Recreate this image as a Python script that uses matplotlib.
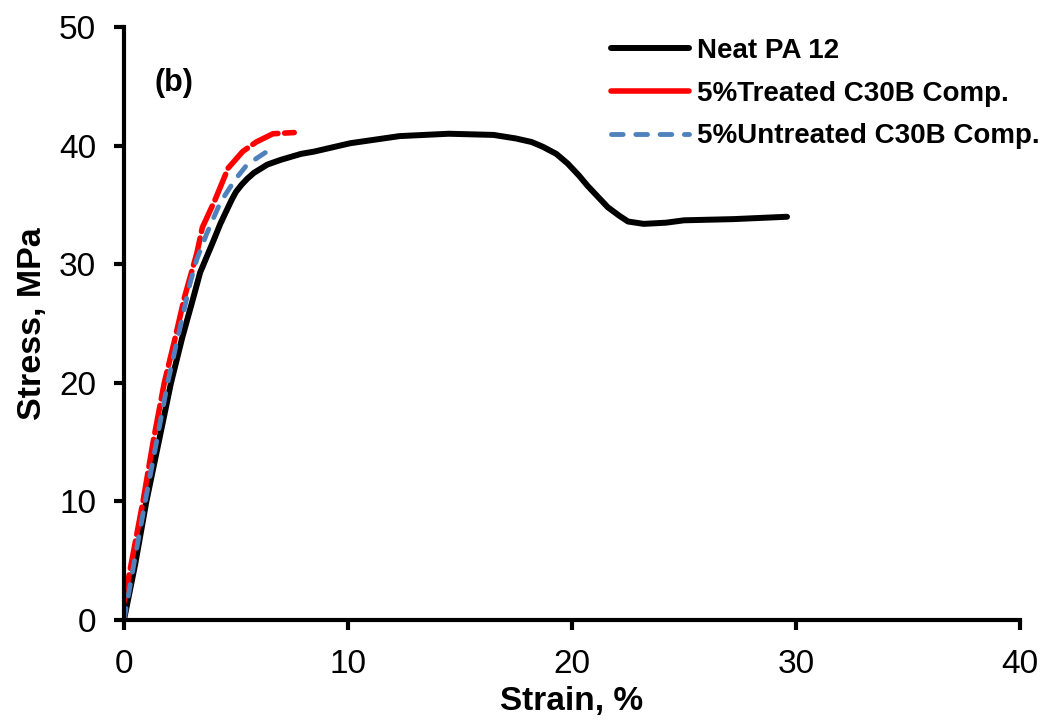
import matplotlib
matplotlib.use("Agg")
import matplotlib.pyplot as plt
from matplotlib.lines import Line2D

plt.rcParams['font.family'] = ['Liberation Sans', 'DejaVu Sans']

# Neat PA 12
strain_neat = [0, 0.5, 1.0, 1.55, 2.1, 2.6, 3.1, 3.4, 4.0, 4.3, 4.6, 4.8, 5.0, 5.25, 5.5,
               5.8, 6.4, 7.0, 7.9, 8.5, 10.1, 12.3, 14.5, 16.5, 17.5, 18.2, 18.7, 19.3,
               19.8, 20.3, 20.7, 21.2, 21.6, 22.1, 22.5, 23.2, 24.2, 25.0, 27.2, 29.6]
stress_neat = [0, 4.7, 10, 15, 20, 23.8, 27.2, 29.3, 32.0, 33.4, 34.6, 35.4, 36.1, 36.7, 37.2,
               37.7, 38.4, 38.8, 39.3, 39.5, 40.2, 40.8, 41.0, 40.9, 40.6, 40.3, 39.9, 39.3,
               38.5, 37.5, 36.6, 35.6, 34.8, 34.1, 33.6, 33.4, 33.5, 33.7, 33.8, 34.0]

# 5% treated C30B
strain_tr = [0, 0.4, 0.85, 1.3, 1.8, 2.25, 2.7, 3.25, 3.5, 4.06, 4.65, 5.3, 5.9, 6.65, 7.6]
stress_tr = [1.5, 5.5, 10, 15, 20, 23.5, 27.2, 30.9, 33.1, 35.4, 38.1, 39.5, 40.3, 41.0, 41.1]

# 5% untreated C30B
strain_un = [0, 0.45, 0.95, 1.45, 1.95, 2.45, 2.95, 3.25, 3.7, 4.3, 4.95, 5.5, 6.3, 6.6]
stress_un = [0, 4.8, 10, 15, 20, 24.2, 28.4, 30.4, 32.6, 35.2, 37.1, 38.4, 39.4, 39.6]

labels = ['Neat PA 12', '5%Treated C30B Comp.', '5%Untreated C30B Comp.']
blue = '#4F81BD'

fig = plt.figure(figsize=(10.56, 7.28), dpi=100)
ax = fig.add_axes([0.1174, 0.1484, 0.8485, 0.8145])

ax.plot(strain_neat, stress_neat, color='black', lw=4.3, solid_capstyle='round',
        solid_joinstyle='round')
ax.plot(strain_tr, stress_tr, color='red', lw=4.0, dashes=(5, 1.2),
        dash_capstyle='round')
ax.plot(strain_un, stress_un, color=blue, lw=3.5, dashes=(2.4, 2.6),
        dash_capstyle='round')

ax.set_xlim(0, 40)
ax.set_ylim(0, 50)
ax.set_xticks([0, 10, 20, 30, 40])
ax.set_yticks([0, 10, 20, 30, 40, 50])
for s in ['top', 'right']:
    ax.spines[s].set_visible(False)
for s in ['left', 'bottom']:
    ax.spines[s].set_linewidth(3)
ax.tick_params(direction='out', length=7, width=3, labelsize=24)
ax.tick_params(axis='y', pad=13)
ax.tick_params(axis='x', pad=14)

ax.set_xlabel('Strain, %', fontsize=24, fontweight='bold', labelpad=4)
ax.set_ylabel('Stress, MPa', fontsize=24.5, fontweight='bold', labelpad=8)

ax.text(1.38, 45.3, '(b)', fontsize=22, fontweight='bold', va='center')

handles = [Line2D([], [], color='black', lw=4.3, solid_capstyle='round'),
           Line2D([], [], color='red', lw=4.0, solid_capstyle='round'),
           Line2D([], [], color=blue, lw=3.5, dashes=(2.4, 2.6), dash_capstyle='round')]
ax.legend(handles, labels, loc='upper left', bbox_to_anchor=(0.528, 1.005),
          frameon=False, borderpad=0, handlelength=2.8, handletextpad=0.3,
          labelspacing=0.6, prop={'size': 20, 'weight': 'bold'})

fig.savefig('out.png', dpi=100)
